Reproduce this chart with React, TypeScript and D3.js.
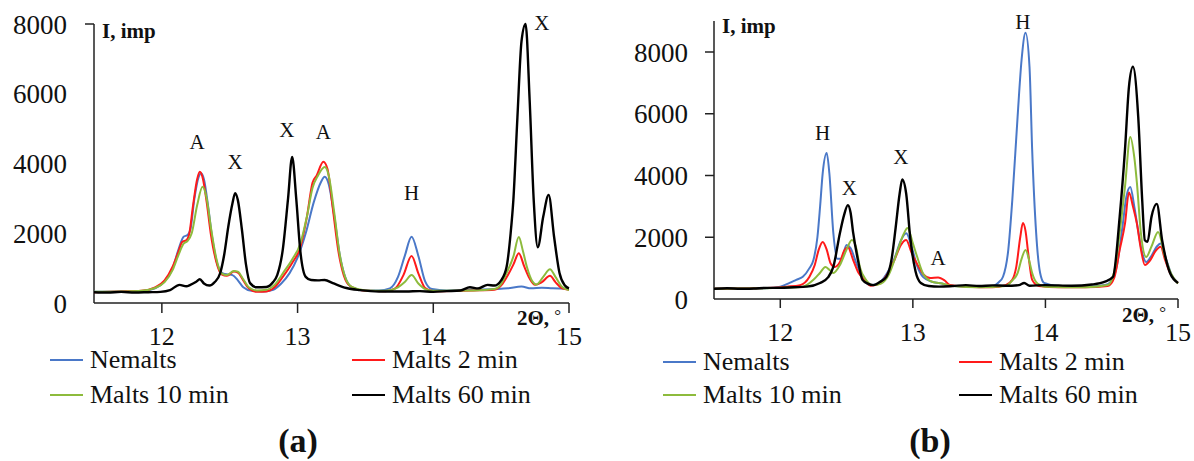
import React from 'react';
import * as d3 from 'd3';

type Pt = [number, number];

const seriesNames = ['Nemalts', 'Malts 2 min', 'Malts 10 min', 'Malts 60 min'];
const seriesColors = ['#4a78c8', '#ff1a1a', '#8dbb3c', '#000000'];
const xTicks = [12, 13, 14, 15];
const yTicks = [0, 2000, 4000, 6000, 8000];

// ---------- Panel (a) ----------
const aNemalts: Pt[] = [
  [11.5, 320], [11.7, 330], [11.85, 340], [11.95, 420], [12.02, 620], [12.08, 1000], [12.12, 1500],
  [12.16, 1900], [12.19, 1950], [12.21, 2100], [12.24, 3000], [12.27, 3600], [12.29, 3720], [12.31, 3550],
  [12.34, 2800], [12.37, 1900], [12.41, 1100], [12.45, 850], [12.49, 820], [12.52, 800], [12.56, 650],
  [12.6, 450], [12.66, 350], [12.75, 330], [12.82, 380], [12.88, 560], [12.94, 850], [13.0, 1300],
  [13.06, 2000], [13.12, 2900], [13.17, 3450], [13.2, 3620], [13.23, 3400], [13.27, 2500], [13.31, 1400],
  [13.35, 750], [13.4, 450], [13.5, 360], [13.6, 360], [13.68, 420], [13.74, 750], [13.79, 1350],
  [13.84, 1900], [13.89, 1350], [13.94, 620], [13.99, 400], [14.1, 360], [14.3, 380], [14.45, 400],
  [14.55, 420], [14.65, 470], [14.72, 420], [14.8, 440], [14.88, 420], [15.0, 410],
];
const aMalts2: Pt[] = [
  [11.5, 310], [11.7, 330], [11.85, 350], [11.95, 450], [12.02, 650], [12.08, 1050], [12.12, 1450],
  [12.15, 1750], [12.18, 1800], [12.2, 1950], [12.23, 2800], [12.26, 3550], [12.28, 3760], [12.3, 3600],
  [12.33, 2900], [12.36, 2000], [12.4, 1200], [12.44, 820], [12.48, 780], [12.53, 900], [12.56, 870],
  [12.6, 650], [12.64, 420], [12.7, 320], [12.77, 330], [12.83, 450], [12.9, 800], [12.96, 1150],
  [13.02, 1600], [13.07, 2500], [13.11, 3450], [13.14, 3650], [13.19, 4050], [13.22, 3850], [13.26, 2700],
  [13.3, 1500], [13.34, 800], [13.39, 480], [13.5, 350], [13.65, 340], [13.72, 420], [13.78, 800],
  [13.84, 1350], [13.89, 850], [13.94, 430], [14.0, 340], [14.3, 360], [14.45, 380], [14.51, 550],
  [14.55, 800], [14.59, 1100], [14.63, 1430], [14.67, 1050], [14.71, 700], [14.75, 520], [14.8, 600],
  [14.86, 780], [14.9, 600], [14.95, 420], [15.0, 380],
];
const aMalts10: Pt[] = [
  [11.5, 320], [11.7, 330], [11.85, 350], [11.95, 430], [12.02, 600], [12.08, 950], [12.12, 1350],
  [12.16, 1700], [12.19, 1780], [12.22, 2000], [12.26, 2800], [12.3, 3330], [12.33, 3000], [12.36, 2200],
  [12.4, 1300], [12.44, 850], [12.48, 800], [12.53, 920], [12.56, 900], [12.6, 680], [12.64, 450],
  [12.7, 360], [12.77, 380], [12.83, 520], [12.9, 900], [12.96, 1250], [13.02, 1700], [13.07, 2500],
  [13.11, 3300], [13.15, 3650], [13.2, 3900], [13.23, 3650], [13.27, 2600], [13.31, 1400], [13.35, 750],
  [13.4, 460], [13.5, 360], [13.65, 350], [13.74, 450], [13.79, 600], [13.84, 800], [13.89, 560],
  [13.94, 400], [14.0, 350], [14.3, 360], [14.45, 400], [14.5, 550], [14.54, 860], [14.59, 1330],
  [14.63, 1890], [14.66, 1500], [14.69, 1030], [14.73, 620], [14.76, 530], [14.81, 750], [14.86, 970],
  [14.9, 750], [14.95, 460], [15.0, 370],
];
const aMalts60: Pt[] = [
  [11.5, 310], [11.6, 300], [11.7, 320], [11.8, 300], [11.9, 310], [11.99, 320], [12.06, 370],
  [12.13, 520], [12.18, 480], [12.21, 520], [12.25, 600], [12.28, 680], [12.31, 560], [12.35, 500],
  [12.39, 600], [12.43, 860], [12.46, 1400], [12.49, 2200], [12.52, 2850], [12.54, 3150], [12.56, 2950],
  [12.59, 2100], [12.62, 1100], [12.65, 570], [12.7, 450], [12.77, 460], [12.82, 600], [12.85, 800],
  [12.89, 1500], [12.93, 3000], [12.96, 4190], [12.99, 3000], [13.02, 1500], [13.06, 750], [13.1, 660],
  [13.15, 650], [13.2, 660], [13.26, 570], [13.36, 430], [13.46, 370], [13.6, 330], [13.8, 330],
  [13.9, 340], [14.0, 320], [14.1, 340], [14.2, 360], [14.27, 450], [14.33, 420], [14.4, 520],
  [14.45, 500], [14.5, 650], [14.54, 1030], [14.57, 2000], [14.59, 2950], [14.62, 5330], [14.65, 7500],
  [14.68, 8000], [14.71, 5820], [14.74, 2950], [14.77, 1600], [14.81, 2470], [14.85, 3100], [14.89, 1900],
  [14.93, 860], [14.97, 500], [15.0, 420],
];

// ---------- Panel (b) ----------
const bNemalts: Pt[] = [
  [11.5, 330], [11.7, 340], [11.9, 350], [12.0, 400], [12.07, 520], [12.12, 620], [12.17, 720],
  [12.22, 1000], [12.25, 1260], [12.28, 2000], [12.3, 2980], [12.32, 4080], [12.35, 4730], [12.37, 4080],
  [12.4, 2140], [12.43, 1300], [12.46, 1300], [12.5, 1750], [12.53, 1650], [12.57, 1200], [12.62, 700],
  [12.68, 450], [12.74, 500], [12.8, 800], [12.86, 1300], [12.91, 1900], [12.95, 2130], [12.99, 1700],
  [13.03, 1100], [13.08, 700], [13.15, 550], [13.22, 500], [13.3, 420], [13.45, 400], [13.6, 420],
  [13.65, 550], [13.68, 720], [13.72, 1600], [13.75, 3200], [13.79, 5900], [13.82, 7740], [13.85, 8620],
  [13.88, 7510], [13.9, 4830], [13.93, 2140], [13.96, 840], [13.99, 520], [14.1, 420], [14.3, 400],
  [14.45, 450], [14.5, 600], [14.54, 1100], [14.58, 2300], [14.61, 3300], [14.64, 3630], [14.67, 3000],
  [14.7, 2200], [14.73, 1500], [14.76, 1200], [14.8, 1400], [14.84, 1700], [14.87, 1800], [14.91, 1300],
  [14.95, 800], [15.0, 520],
];
const bMalts2: Pt[] = [
  [11.5, 330], [11.7, 340], [11.9, 360], [12.05, 400], [12.15, 450], [12.22, 720], [12.26, 1100],
  [12.29, 1600], [12.32, 1850], [12.35, 1600], [12.38, 1150], [12.41, 1040], [12.45, 1200], [12.48, 1550],
  [12.51, 1680], [12.55, 1260], [12.59, 850], [12.63, 650], [12.68, 430], [12.74, 480], [12.8, 750],
  [12.86, 1250], [12.91, 1750], [12.95, 1910], [12.99, 1500], [13.03, 1150], [13.08, 800], [13.13, 680],
  [13.19, 700], [13.24, 600], [13.28, 450], [13.4, 400], [13.6, 380], [13.7, 450], [13.75, 620],
  [13.78, 1040], [13.81, 2000], [13.83, 2460], [13.85, 2200], [13.87, 1490], [13.9, 620], [13.95, 420],
  [14.1, 380], [14.3, 380], [14.47, 420], [14.52, 700], [14.56, 1590], [14.6, 2440], [14.63, 3450],
  [14.66, 3000], [14.69, 2440], [14.72, 1620], [14.75, 1100], [14.79, 1250], [14.83, 1550], [14.87, 1690],
  [14.9, 1300], [14.94, 840], [15.0, 520],
];
const bMalts10: Pt[] = [
  [11.5, 330], [11.7, 340], [11.9, 350], [12.05, 370], [12.17, 400], [12.25, 620], [12.3, 850],
  [12.34, 1040], [12.37, 950], [12.4, 840], [12.45, 1100], [12.5, 1600], [12.54, 1910], [12.57, 1700],
  [12.6, 1040], [12.65, 600], [12.7, 450], [12.76, 500], [12.82, 800], [12.88, 1500], [12.93, 2100],
  [12.96, 2300], [13.0, 1800], [13.03, 1400], [13.08, 800], [13.15, 550], [13.22, 500], [13.3, 420],
  [13.5, 380], [13.7, 420], [13.75, 600], [13.79, 840], [13.82, 1300], [13.85, 1590], [13.88, 1200],
  [13.9, 840], [13.94, 500], [14.0, 400], [14.3, 380], [14.47, 450], [14.52, 900], [14.56, 2140],
  [14.6, 3630], [14.64, 5250], [14.67, 4600], [14.69, 3760], [14.72, 2140], [14.76, 1360], [14.8, 1700],
  [14.85, 2170], [14.9, 1400], [14.95, 800], [15.0, 500],
];
const bMalts60: Pt[] = [
  [11.5, 330], [11.6, 350], [11.7, 330], [11.8, 340], [11.9, 360], [12.0, 360], [12.1, 380],
  [12.2, 400], [12.3, 520], [12.36, 700], [12.4, 1040], [12.45, 2140], [12.48, 2700], [12.51, 3040],
  [12.53, 2800], [12.55, 2140], [12.59, 1170], [12.62, 620], [12.66, 500], [12.7, 450], [12.75, 550],
  [12.8, 720], [12.84, 1300], [12.87, 2300], [12.9, 3400], [12.92, 3870], [12.95, 3400], [12.98, 2000],
  [13.02, 900], [13.06, 520], [13.12, 420], [13.2, 400], [13.3, 420], [13.4, 450], [13.5, 420],
  [13.6, 440], [13.7, 430], [13.8, 450], [13.84, 520], [13.88, 430], [14.0, 450], [14.2, 430],
  [14.35, 470], [14.45, 560], [14.51, 720], [14.56, 2660], [14.6, 4830], [14.63, 6870], [14.66, 7520],
  [14.7, 5900], [14.73, 3200], [14.75, 1900], [14.77, 1850], [14.8, 2660], [14.84, 3080], [14.88, 1910],
  [14.94, 840], [15.0, 520],
];

// peak annotations [text, 2theta, intensity]
const aPeakLabels: [string, number, number][] = [
  ['A', 12.26, 4620], ['X', 12.54, 4040], ['X', 12.92, 4960], ['A', 13.19, 4900], ['H', 13.84, 3150], ['X', 14.8, 8030],
];
const bPeakLabels: [string, number, number][] = [
  ['H', 12.32, 5380], ['X', 12.52, 3600], ['X', 12.91, 4600], ['A', 13.19, 1330], ['H', 13.83, 8970],
];

const SERIF = "'Liberation Serif', 'Times New Roman', serif";

type PanelCfg = {
  series: Pt[][];
  peaks: [string, number, number][];
  xPx: [number, number];
  yPx: [number, number];
  yMax: number;
  yAxisTop: number;
  yTickAll: boolean;
  xTickLen: number;
  xLabelBase: number;
  yLabelX: number;
  iLabel: [number, number];
  thetaLabel: [number, number];
  legendCols: [number, number];
  legendRows: [number, number];
  panelLabel: string;
  panelLabelX: number;
};

function T(props: any) {
  const { children, size, weight, x, y, anchor, dy } = props;
  return (
    <text
      x={x}
      y={y}
      dy={dy}
      textAnchor={anchor || 'start'}
      fill="#111"
      style={{ fontFamily: SERIF, fontSize: size + 'px', fontWeight: weight || 'normal' }}
    >
      {children}
    </text>
  );
}

function Panel({ cfg }: { cfg: PanelCfg }) {
  const x = d3.scaleLinear().domain([11.5, 15]).range(cfg.xPx);
  const y = d3.scaleLinear().domain([0, cfg.yMax]).range(cfg.yPx);
  const line = d3
    .line<Pt>()
    .x((d) => x(d[0]))
    .y((d) => y(d[1]))
    .curve(d3.curveMonotoneX);
  const y0 = y(0);
  const axisColor = '#222';
  const order = [0, 1, 2, 3];
  return (
    <g>
      <line x1={cfg.xPx[0]} x2={cfg.xPx[1]} y1={y0} y2={y0} stroke={axisColor} strokeWidth={1.5} />
      <line x1={cfg.xPx[0]} x2={cfg.xPx[0]} y1={y0} y2={cfg.yAxisTop} stroke={axisColor} strokeWidth={1.5} />
      {xTicks.map((t) => (
        <g key={'xt' + t}>
          <line x1={x(t)} x2={x(t)} y1={y0} y2={y0 + cfg.xTickLen} stroke={axisColor} strokeWidth={1.5} />
          <T x={x(t)} y={cfg.xLabelBase} anchor="middle" size={26}>
            {String(t)}
          </T>
        </g>
      ))}
      {yTicks.map((t) => (
        <g key={'yt' + t}>
          {(cfg.yTickAll ? t > 0 : t === 8000) && (
            <line x1={cfg.xPx[0] - 9} x2={cfg.xPx[0]} y1={y(t)} y2={y(t)} stroke={axisColor} strokeWidth={1.5} />
          )}
          <T x={cfg.yLabelX} y={y(t)} dy="0.36em" anchor="end" size={27}>
            {String(t)}
          </T>
        </g>
      ))}
      <T x={cfg.iLabel[0]} y={cfg.iLabel[1]} weight="bold" size={21}>
        I, imp
      </T>
      <T x={cfg.thetaLabel[0]} y={cfg.thetaLabel[1]} weight="bold" size={21}>
        {'2Θ, '}
        <tspan dy={-4} style={{ fontWeight: 'normal', fontSize: '17px' }}>
          °
        </tspan>
      </T>
      {order.map((i) => (
        <path
          key={'s' + i}
          d={line(cfg.series[i]) || ''}
          fill="none"
          stroke={seriesColors[i]}
          strokeWidth={i === 3 ? 2.4 : 2}
          strokeLinejoin="round"
        />
      ))}
      {cfg.peaks.map((p, k) => (
        <T key={'p' + k} x={x(p[1])} y={y(p[2])} dy="0.35em" anchor="middle" size={21}>
          {p[0]}
        </T>
      ))}
      {seriesNames.map((n, i) => {
        const col = cfg.legendCols[i % 2];
        const row = cfg.legendRows[Math.floor(i / 2)];
        return (
          <g key={'l' + i}>
            <line x1={col} x2={col + 33} y1={row} y2={row} stroke={seriesColors[i]} strokeWidth={2} />
            <T x={col + 40} y={row + 8} size={26}>
              {n}
            </T>
          </g>
        );
      })}
      <T x={cfg.panelLabelX} y={452} anchor="middle" weight="bold" size={34}>
        {cfg.panelLabel}
      </T>
    </g>
  );
}

const panelA: PanelCfg = {
  series: [aNemalts, aMalts2, aMalts10, aMalts60],
  peaks: aPeakLabels,
  xPx: [94, 569],
  yPx: [303, 24],
  yMax: 8000,
  yAxisTop: 24,
  yTickAll: false,
  xTickLen: 10,
  xLabelBase: 345,
  yLabelX: 67,
  iLabel: [102, 38],
  thetaLabel: [517, 325],
  legendCols: [50, 352],
  legendRows: [360, 395],
  panelLabel: '(a)',
  panelLabelX: 298,
};

const panelB: PanelCfg = {
  series: [bNemalts, bMalts2, bMalts10, bMalts60],
  peaks: bPeakLabels,
  xPx: [714, 1178],
  yPx: [299, 299 - (9000 / 2000) * 61.75],
  yMax: 9000,
  yAxisTop: 21,
  yTickAll: true,
  xTickLen: 9,
  xLabelBase: 341,
  yLabelX: 688,
  iLabel: [722, 33],
  thetaLabel: [1122, 322],
  legendCols: [663, 959],
  legendRows: [362, 395],
  panelLabel: '(b)',
  panelLabelX: 930,
};

export default function App() {
  return (
    <svg
      width={1194}
      height={461}
      viewBox="0 0 1194 461"
      style={{ position: 'absolute', left: 0, top: 0, background: '#fff' }}
    >
      <rect width={1194} height={461} fill="#fff" />
      <Panel cfg={panelA} />
      <Panel cfg={panelB} />
    </svg>
  );
}
